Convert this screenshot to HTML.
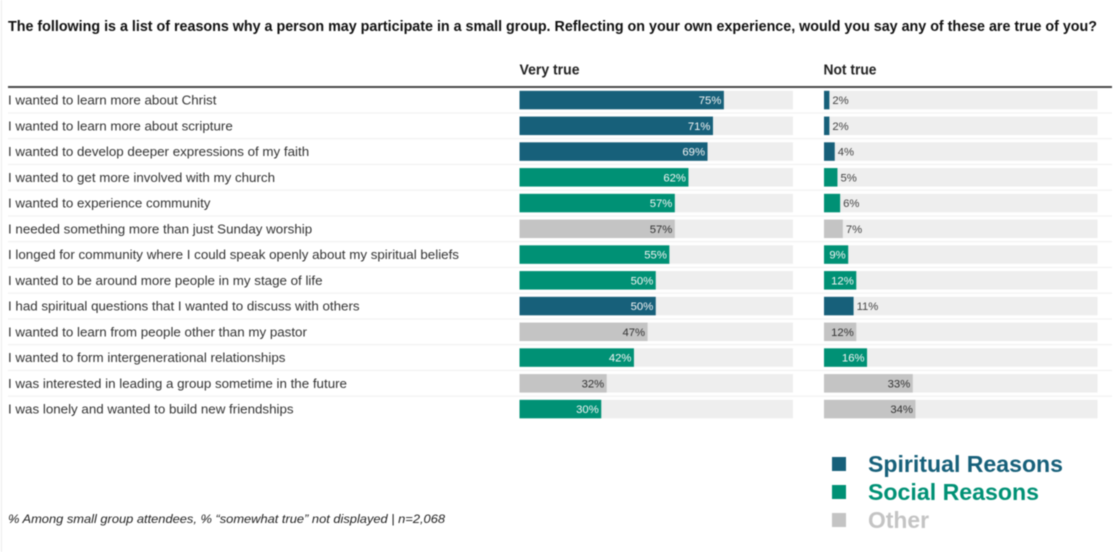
<!DOCTYPE html>
<html lang="en">
<head>
<meta charset="utf-8">
<title>Reasons for participating in a small group</title>
<style>
html,body{margin:0;padding:0;background:#fff;width:1116px;height:552px;overflow:hidden}
svg{display:block;font-family:"Liberation Sans",Arial,sans-serif;filter:blur(.4px)}
</style>
</head>
<body>
<svg id="chart" width="1116" height="552" viewBox="0 0 1116 552" xmlns="http://www.w3.org/2000/svg">
  <rect width="1116" height="552" fill="#fff"/>
  <rect x="1" y="0" width="1" height="552" fill="#ececec"/>
  <text x="8" y="31" font-size="15" font-weight="700" fill="#111" textLength="1089" lengthAdjust="spacingAndGlyphs">The following is a list of reasons why a person may participate in a small group. Reflecting on your own experience, would you say any of these are true of you?</text>
  <text x="519.5" y="74.5" font-size="14.6" font-weight="700" fill="#222" textLength="60" lengthAdjust="spacingAndGlyphs">Very true</text>
  <text x="823.5" y="74.5" font-size="14.6" font-weight="700" fill="#222" textLength="53" lengthAdjust="spacingAndGlyphs">Not true</text>
  <rect x="8" y="86" width="1104" height="2" fill="#4a4a4a"/>
  <g id="rows"></g>

  <text x="8" y="523" font-size="12.4" font-style="italic" fill="#222" textLength="437" lengthAdjust="spacingAndGlyphs">% Among small group attendees, % “somewhat true” not displayed | n=2,068</text>

  <g>
    <g>
      <rect x="832" y="457" width="14" height="14" fill="#17607a"/>
      <text x="868" y="472" font-size="23" font-weight="700" fill="#17607a" textLength="195" lengthAdjust="spacingAndGlyphs">Spiritual Reasons</text>
    </g>
    <g>
      <rect x="832" y="485" width="14" height="14" fill="#009175"/>
      <text x="868" y="500" font-size="23" font-weight="700" fill="#009175" textLength="171" lengthAdjust="spacingAndGlyphs">Social Reasons</text>
    </g>
    <g>
      <rect x="832" y="513" width="14" height="14" fill="#c4c4c4"/>
      <text x="868" y="528" font-size="23" font-weight="700" fill="#c4c4c4" textLength="61" lengthAdjust="spacingAndGlyphs">Other</text>
    </g>
  </g>
</svg>
<script>
const categories = [
  "I wanted to learn more about Christ",
  "I wanted to learn more about scripture",
  "I wanted to develop deeper expressions of my faith",
  "I wanted to get more involved with my church",
  "I wanted to experience community",
  "I needed something more than just Sunday worship",
  "I longed for community where I could speak openly about my spiritual beliefs",
  "I wanted to be around more people in my stage of life",
  "I had spiritual questions that I wanted to discuss with others",
  "I wanted to learn from people other than my pastor",
  "I wanted to form intergenerational relationships",
  "I was interested in leading a group sometime in the future",
  "I was lonely and wanted to build new friendships"
];
const veryTrueTypes = ["spiritual","spiritual","spiritual","social","social","other","social","social","spiritual","other","social","other","social"];
const notTrueTypes = ["spiritual","spiritual","spiritual","social","social","other","social","social","spiritual","other","social","other","other"];
const veryTrue = [75,71,69,62,57,57,55,50,50,47,42,32,30];
const notTrue = [2,2,4,5,6,7,9,12,11,12,16,33,34];
const notTrueLabelInside = [false,false,false,false,false,false,true,true,false,true,true,true,true];

const SVG_NS = "http://www.w3.org/2000/svg";
const rowsGroup = document.getElementById("rows");
const typeColor = { spiritual: "#17607a", social: "#009175", other: "#c4c4c4" };
const labelInk = { spiritual: "#f4f4f4", social: "#f4f4f4", other: "#333" };
const panels = { veryTrue: 519.5, notTrue: 824 };
const trackWidth = 273.5;
const veryTrueUnit = 2.725;
const notTrueUnit = 2.69;
const rowTop = 87.2;
const rowStep = 25.75;
const barHeight = 18.5;

function yCenter(index) { return rowTop + rowStep * index + rowStep / 2; }

function make(tag, attrs, parent) {
  const el = document.createElementNS(SVG_NS, tag);
  for (const key in attrs) el.setAttribute(key, attrs[key]);
  parent.appendChild(el);
  return el;
}

function drawBar(parent, originX, unit, value, index, type, inside, panelName) {
  const cy = yCenter(index);
  const track = make("rect", { x: originX, y: cy - barHeight / 2, width: trackWidth, height: barHeight, fill: "#eeeeee" }, parent);
  
  
  const w = value * unit;
  const bar = make("rect", { x: originX, y: cy - barHeight / 2, width: w, height: barHeight, fill: typeColor[type] }, parent);
  
  
  const end = originX + w;
  const label = make("text", {
    x: inside ? end - 2.5 : end + 3,
    y: cy + 4,
    "font-size": 11.3,
    "text-anchor": inside ? "end" : "start",
    fill: inside ? labelInk[type] : "#444"
  }, parent);
  
  
  label.textContent = value + "%";
}

categories.forEach(function (category, i) {
  const row = make("g", {}, rowsGroup);
  
  

  const text = make("text", { x: 8, y: yCenter(i) + 4.6, "font-size": 13.35, fill: "#333" }, row);
  
  
  text.textContent = category;

  if (i < categories.length - 1) {
    const sep = make("rect", { x: 8, y: rowTop + rowStep * (i + 1) - 0.5, width: 1104, height: 1, fill: "#efefef" }, row);
    
    
  }

  drawBar(row, panels.veryTrue, veryTrueUnit, veryTrue[i], i, veryTrueTypes[i], true, 'very-true');
  drawBar(row, panels.notTrue, notTrueUnit, notTrue[i], i, notTrueTypes[i], notTrueLabelInside[i], 'not-true');
});
</script>
</body>
</html>
